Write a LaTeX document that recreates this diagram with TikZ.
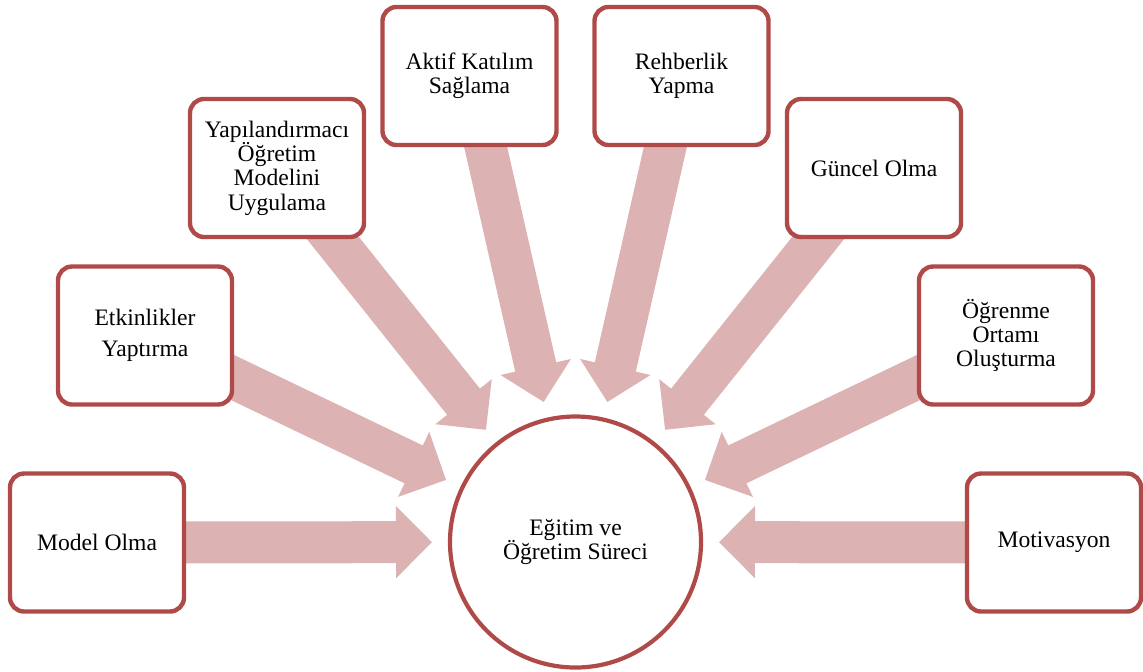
\documentclass[tikz,border=0pt]{standalone}
\usepackage{fontspec}
\setmainfont{Liberation Serif}
\usetikzlibrary{arrows.meta,calc,backgrounds}
\definecolor{boxred}{RGB}{176,74,72}
\definecolor{arrowpink}{RGB}{221,178,178}
\tikzset{
  itembox/.style={draw=boxred, line width=2.2pt, rounded corners=7pt, fill=white,
    minimum width=87pt, minimum height=69pt, align=center, inner sep=1pt,
    font=\fontsize{11.8}{12.2}\selectfont},
  centercircle/.style={circle, draw=boxred, line width=2.1pt, fill=white,
    minimum size=125.5pt, align=center, inner sep=0pt,
    font=\fontsize{11.8}{12.4}\selectfont},
  bigarrow/.style={draw=arrowpink, line width=21pt, line cap=butt,
    -{Triangle[width=35pt,length=18pt]}}
}
\begin{document}
\begin{tikzpicture}[x=0.5pt,y=-0.5pt]
\useasboundingbox (0,0) rectangle (1143,671);
\node[centercircle] (C) at (575.5,542) {Eğitim ve\\Öğretim Süreci};
\node[itembox] (b1) at (97,542.5) {Model Olma};
\node[itembox] (b2) at (145,335.5) {Etkinlikler\\[3pt]Yaptırma};
\node[itembox] (b3) at (277,168) {Yapılandırmacı\\Öğretim\\Modelini\\Uygulama};
\node[itembox] (b4) at (469.5,76) {Aktif Katılım\\Sağlama};
\node[itembox] (b5) at (681.5,76) {Rehberlik\\Yapma};
\node[itembox] (b6) at (874,168) {Güncel Olma};
\node[itembox] (b7) at (1006,335.5) {Öğrenme\\Ortamı\\Oluşturma};
\node[itembox] (b8) at (1054,542.5) {Motivasyon};
\foreach \i in {1,...,8}{
  \coordinate (t\i) at ($(C)!71.75pt!(b\i)$);
}
\begin{scope}[on background layer]
\foreach \i in {1,...,8}{
  \draw[bigarrow] (b\i.center) -- (t\i);
}
\end{scope}
\end{tikzpicture}
\end{document}
